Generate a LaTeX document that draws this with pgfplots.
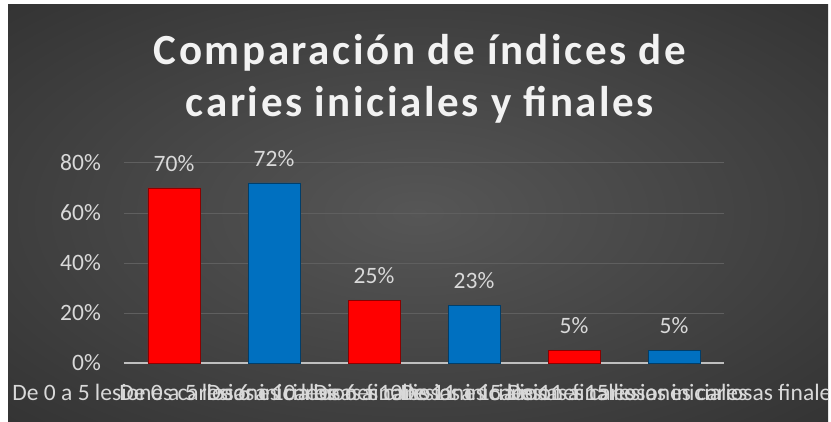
\documentclass[border=0pt]{standalone}
\usepackage{pgfplots}
\pgfplotsset{compat=1.18}
\usepackage{fontspec}
\setmainfont{Carlito}
\newfontfamily\titlefont{Carlito}[LetterSpace=6]

\definecolor{barred}{RGB}{255,0,0}
\definecolor{barblue}{RGB}{0,112,192}
\definecolor{bgin}{RGB}{86,86,86}
\definecolor{bgout}{RGB}{36,36,36}
\definecolor{txt}{RGB}{217,217,217}
\definecolor{gridc}{RGB}{95,95,95}
\definecolor{basec}{RGB}{191,191,191}
\pgfdeclareradialshading{bg}{\pgfpoint{0bp}{0bp}}{color(0bp)=(bgin); color(52bp)=(bgout); color(80bp)=(bgout)}

\begin{document}
\begin{tikzpicture}[x=1pt,y=1pt]
\useasboundingbox (0,0) rectangle (831,421);
\fill[white] (0,0) rectangle (831,421);
\begin{scope}
\clip (8,0) rectangle (828,416);
\shade[shading=bg] (8,0) rectangle (828,416);

% title
\begin{scope}[font=\titlefont\fontsize{43}{52}\selectfont\bfseries]
\node[anchor=base, text=white!95!black] at (420,356) {Comparación de índices de};
\node[anchor=base, text=white!95!black] at (420,304) {caries iniciales y finales};
\end{scope}

\begin{axis}[
  at={(124pt,58pt)}, anchor=south west,
  scale only axis, width=600pt, height=200pt,
  xmin=-0.5, xmax=5.5, ymin=0, ymax=80,
  ybar, bar width=52pt, bar shift=0pt,
  axis x line*=bottom, axis y line*=left,
  x axis line style={basec, line width=1.6pt, -},
  y axis line style={draw=none},
  major tick length=0pt, tick style={draw=none},
  ytick={0,20,40,60,80},
  yticklabel={\pgfmathprintnumber{\tick}\%},
  ymajorgrids, grid style={gridc, line width=1pt},
  xtick={0,1,2,3,4,5},
  xticklabels={De 0 a 5 lesiones cariosas iniciales,
               De 0 a 5 lesiones cariosas finales,
               De 6 a 10 lesiones cariosas iniciales,
               De 6 a 10 lesiones cariosas finales,
               De 11 a 15 lesiones cariosas iniciales,
               De 11 a 15 lesiones cariosas finales},
  ticklabel style={font=\fontsize{23.5}{28}\selectfont, text=txt},
  yticklabel style={anchor=east, inner sep=0pt, xshift=-23pt},
  xticklabel style={anchor=base, inner sep=0pt, yshift=-37pt},
  /pgf/number format/assume math mode=true,
  nodes near coords={\pgfmathprintnumber{\pgfplotspointmeta}\%},
  every node near coord/.append style={font=\fontsize{23.5}{28}\selectfont, text=txt, yshift=13pt},
  clip=false,
]
\addplot[fill=barred, draw=barred!55!black, line width=0.8pt]
  coordinates {(0,70) (2,25) (4,5)};
\addplot[fill=barblue, draw=barblue!55!black, line width=0.8pt]
  coordinates {(1,72) (3,23) (5,5)};
\end{axis}
\end{scope}
\end{tikzpicture}
\end{document}
